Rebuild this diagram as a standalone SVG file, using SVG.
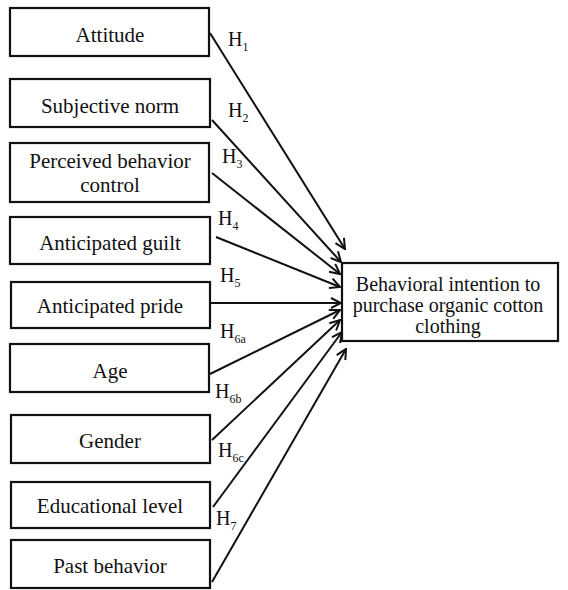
<svg xmlns="http://www.w3.org/2000/svg" width="568" height="590" viewBox="0 0 568 590">
<style>
.box{fill:#fff;stroke:#111;stroke-width:2.2}
.t{font-family:"Liberation Serif","Times New Roman",serif;font-size:21px;fill:#111;text-anchor:middle}
.tt{font-size:20px}
.h{font-family:"Liberation Serif","Times New Roman",serif;font-size:20px;fill:#111}
.s{font-size:12px}
.c{stroke:#111;stroke-width:2;fill:none;marker-end:url(#a)}
</style>
<defs>
<marker id="a" viewBox="0 0 12 12" refX="11" refY="6" markerWidth="12" markerHeight="12" markerUnits="userSpaceOnUse" orient="auto">
<path d="M1,1 L11,6 L1,11" fill="none" stroke="#111" stroke-width="2"/>
</marker>
</defs>
<rect width="568" height="590" fill="#fff"/>
<g id="attitude"><rect class="box" x="10" y="8" width="199" height="48"/><text class="t" x="110" y="42">Attitude</text></g>
<g id="subjective-norm"><rect class="box" x="10" y="79" width="200" height="48"/><text class="t" x="110" y="113">Subjective norm</text></g>
<g id="perceived-behavior-control"><rect class="box" x="10" y="143" width="199" height="59"/><text class="t" x="110" y="168">Perceived behavior</text><text class="t" x="110" y="192">control</text></g>
<g id="anticipated-guilt"><rect class="box" x="10" y="217" width="200" height="47"/><text class="t" x="110" y="250">Anticipated guilt</text></g>
<g id="anticipated-pride"><rect class="box" x="11" y="282" width="199" height="46"/><text class="t" x="110" y="313">Anticipated pride</text></g>
<g id="age"><rect class="box" x="10" y="344" width="199" height="48"/><text class="t" x="110" y="378">Age</text></g>
<g id="gender"><rect class="box" x="11" y="415" width="199" height="48"/><text class="t" x="110" y="448">Gender</text></g>
<g id="educational-level"><rect class="box" x="11" y="482" width="199" height="46"/><text class="t" x="110" y="513">Educational level</text></g>
<g id="past-behavior"><rect class="box" x="11" y="540" width="199" height="48"/><text class="t" x="110" y="573">Past behavior</text></g>
<g id="behavioral-intention"><rect class="box" x="342" y="263" width="216" height="78"/><text class="t tt" x="448" y="291">Behavioral intention to</text><text class="t tt" x="448" y="312">purchase organic cotton</text><text class="t tt" x="448" y="333">clothing</text></g>
<g id="connectors">
<line class="c" x1="210" y1="33" x2="345" y2="249"/>
<line class="c" x1="212" y1="120" x2="341" y2="262"/>
<line class="c" x1="212" y1="173" x2="340" y2="274"/>
<line class="c" x1="216" y1="237" x2="340" y2="287"/>
<line class="c" x1="210" y1="303" x2="341" y2="303"/>
<line class="c" x1="210" y1="374" x2="340" y2="310"/>
<line class="c" x1="212" y1="440" x2="340" y2="320"/>
<line class="c" x1="213" y1="507" x2="342" y2="332"/>
<line class="c" x1="212" y1="582" x2="346" y2="349"/>
</g>
<g id="labels">
<text class="h" x="228" y="46">H<tspan class="s" dy="5">1</tspan></text>
<text class="h" x="228" y="117">H<tspan class="s" dy="5">2</tspan></text>
<text class="h" x="222" y="163">H<tspan class="s" dy="5">3</tspan></text>
<text class="h" x="218" y="225">H<tspan class="s" dy="5">4</tspan></text>
<text class="h" x="220" y="282">H<tspan class="s" dy="5">5</tspan></text>
<text class="h" x="220" y="338">H<tspan class="s" dy="5">6a</tspan></text>
<text class="h" x="215" y="398">H<tspan class="s" dy="5">6b</tspan></text>
<text class="h" x="218" y="457">H<tspan class="s" dy="5">6c</tspan></text>
<text class="h" x="216" y="525">H<tspan class="s" dy="5">7</tspan></text>
</g>
</svg>
